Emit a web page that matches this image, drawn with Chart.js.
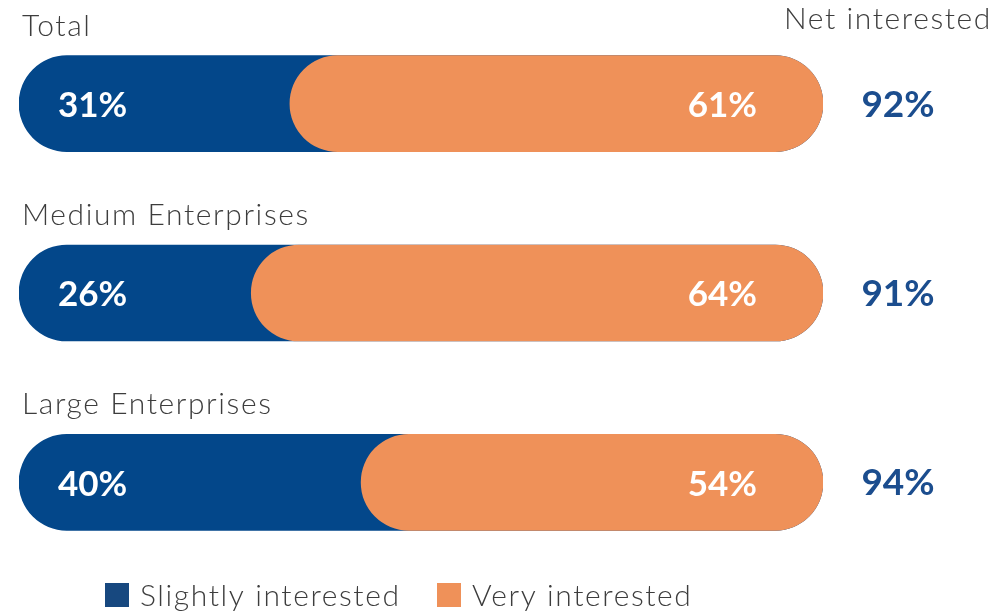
<!DOCTYPE html>
<html>
<head>
<meta charset="utf-8">
<script src="https://cdn.jsdelivr.net/npm/chart.js@4"></script>
<style>
  html, body { margin: 0; padding: 0; background: #fff; }
  #wrap { width: 1008px; height: 616px; position: relative; }
</style>
</head>
<body>
<div id="wrap"><canvas id="myChart" width="1008" height="616"></canvas></div>
<script>
const categories = ["Total", "Medium Enterprises", "Large Enterprises"];
const slightly = [31, 26, 40];
const very = [61, 64, 54];
const netInterested = [92, 91, 94];
const seriesNames = ["Slightly interested", "Very interested"];

const blueColor = "#03478a";
const orangeColor = "#ef9159";
const netColor = "#1b4d8e";
const greyText = "#3d3d3d";
const lightFont = "'Lato', 'Open Sans', sans-serif";

// each pill = whole interested share, orange part laid over its right side
const blueBars = categories.map(() => [0, 1]);
const orangeBars = categories.map((c, i) => [slightly[i] / (slightly[i] + very[i]), 1]);

const setLight = (ctx) => {
    ctx.font = "300 30px " + lightFont;
    ctx.letterSpacing = "1.6px";
    ctx.fillStyle = greyText;
};
const setBold = (ctx, size) => {
    ctx.font = "bold " + size + "px " + lightFont;
    ctx.letterSpacing = "0px";
};

const labelsPlugin = {
    id: "labelsPlugin",
    afterDatasetsDraw(chart) {
        const ctx = chart.ctx;
        const xs = chart.scales.x;
        const ys = chart.scales.y;
        const half = 48;
        ctx.save();

        // header over the net column
        setLight(ctx);
        ctx.textAlign = "right";
        ctx.textBaseline = "alphabetic";
        ctx.fillText("Net interested", 992, 29);

        categories.forEach((cat, i) => {
            const y = ys.getPixelForValue(i);
            const left = xs.getPixelForValue(0);
            const right = xs.getPixelForValue(1);

            setLight(ctx);
            ctx.textAlign = "left";
            ctx.textBaseline = "alphabetic";
            ctx.fillText(cat, left + 3, y - half - 20);

            setBold(ctx, 35);
            ctx.textBaseline = "middle";
            ctx.fillStyle = "#fff";
            ctx.textAlign = "left";
            ctx.fillText(slightly[i] + "%", left + 39, y + 2);
            ctx.textAlign = "right";
            ctx.fillText(very[i] + "%", right - 66, y + 2);

            setBold(ctx, 37);
            ctx.fillStyle = netColor;
            ctx.textAlign = "center";
            ctx.fillText(netInterested[i] + "%", right + 75, y + 1);
        });

        // legend
        const legendX = [105, 437];
        setLight(ctx);
        ctx.textAlign = "left";
        ctx.textBaseline = "middle";
        seriesNames.forEach((name, k) => {
            ctx.fillStyle = k === 0 ? "#17487f" : orangeColor;
            ctx.fillRect(legendX[k], 583, 24, 24);
            ctx.fillStyle = greyText;
            ctx.fillText(name, legendX[k] + 35, 596);
        });
        ctx.restore();
    }
};

const myChart = new Chart("myChart", {
    type: "bar",
    data: {
        labels: categories,
        datasets: [
            {
                label: seriesNames[0],
                data: blueBars,
                backgroundColor: blueColor,
                borderRadius: 48,
                borderSkipped: false,
                barThickness: 96,
                order: 2
            },
            {
                label: seriesNames[1],
                data: orangeBars,
                backgroundColor: orangeColor,
                borderRadius: 48,
                borderSkipped: false,
                barThickness: 96,
                order: 1
            }
        ]
    },
    options: {
        indexAxis: "y",
        responsive: false,
        animation: false,
        grouped: false,
        layout: { padding: { left: 19, right: 185, top: 9, bottom: 39 } },
        scales: {
            x: { display: false, min: 0, max: 1 },
            y: { display: false }
        },
        plugins: {
            legend: { display: false },
            tooltip: { enabled: false }
        }
    },
    plugins: [labelsPlugin]
});
</script>
</body>
</html>
